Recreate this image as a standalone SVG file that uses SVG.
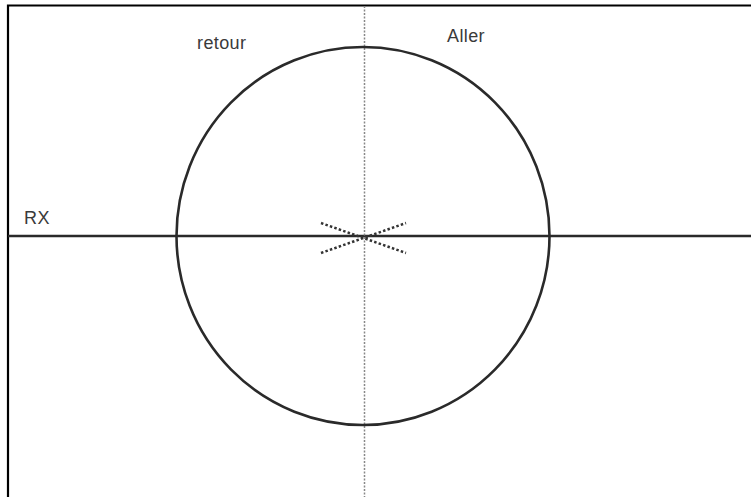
<svg xmlns="http://www.w3.org/2000/svg" width="751" height="497" viewBox="0 0 751 497">
<style>
.lbl{font-family:"Liberation Sans",Arial,sans-serif;font-size:18px;letter-spacing:0.4px;fill:#3a3a3a}
.solid{fill:none;stroke:#2a2a2a;stroke-width:2.6}
.dot{fill:none;stroke:#333;stroke-width:2.5;stroke-dasharray:2.5 2.2}
</style>
<rect width="751" height="497" fill="#fff"/>
<g id="frame">
<path d="M8 497 V5.5 H751" fill="none" stroke="#000" stroke-width="2.2"/>
</g>
<g id="connectors">
<line class="solid" x1="8" y1="236" x2="751" y2="236"/>
<line x1="364.5" y1="6" x2="364.5" y2="497" stroke="#888" stroke-width="1.5" stroke-dasharray="2 1.5"/>
<line class="dot" x1="321" y1="223" x2="406" y2="253"/>
<line class="dot" x1="321" y1="253" x2="406" y2="223"/>
</g>
<g id="circle">
<ellipse class="solid" cx="363" cy="236" rx="186.5" ry="189"/>
</g>
<g id="labels">
<text class="lbl" x="24" y="224">RX</text>
<text class="lbl" x="197" y="49">retour</text>
<text class="lbl" x="447" y="42">Aller</text>
</g>
</svg>
